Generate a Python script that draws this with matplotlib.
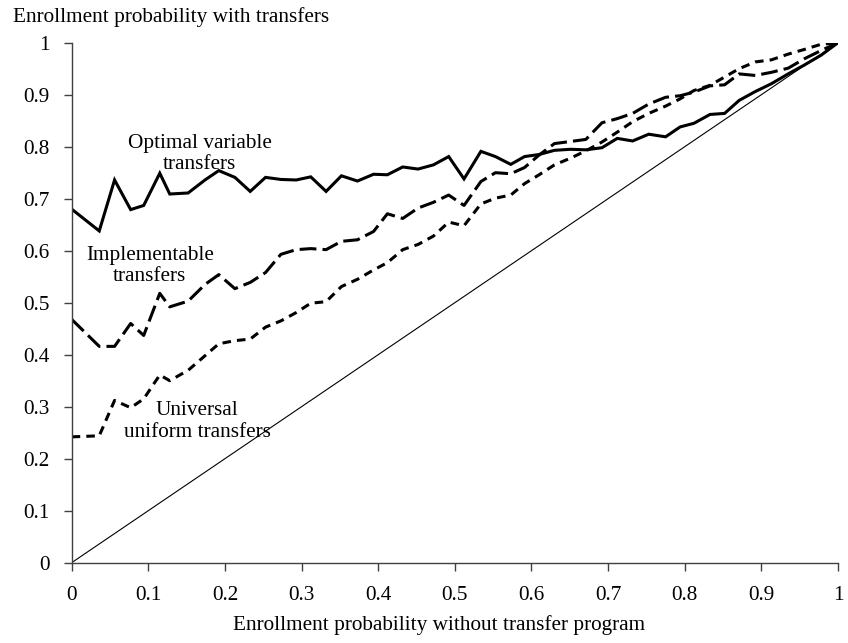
import matplotlib
matplotlib.use("Agg")
import matplotlib.pyplot as plt

# enrollment probability without transfers (x) and with each transfer scheme (y)
x_base = [0.0, 0.036, 0.056, 0.077, 0.094, 0.115, 0.128, 0.152, 0.174, 0.192,
          0.213, 0.233, 0.253, 0.273, 0.293, 0.312, 0.332, 0.352, 0.373, 0.394,
          0.412, 0.432, 0.452, 0.472, 0.492, 0.512, 0.534, 0.553, 0.573, 0.591,
          0.610, 0.630, 0.651, 0.671, 0.692, 0.712, 0.732, 0.753, 0.775, 0.794,
          0.812, 0.833, 0.852, 0.871, 0.892, 0.913, 0.935, 0.956, 0.978, 1.0]

optimal = [0.680, 0.638, 0.736, 0.679, 0.687, 0.749, 0.709, 0.711, 0.736, 0.754,
           0.741, 0.714, 0.741, 0.737, 0.736, 0.742, 0.714, 0.744, 0.734, 0.747,
           0.746, 0.761, 0.757, 0.765, 0.781, 0.738, 0.791, 0.781, 0.766, 0.781,
           0.785, 0.793, 0.795, 0.794, 0.798, 0.816, 0.811, 0.824, 0.819, 0.838,
           0.845, 0.862, 0.864, 0.889, 0.906, 0.921, 0.940, 0.957, 0.976, 1.0]

implementable = [0.468, 0.416, 0.416, 0.460, 0.437, 0.518, 0.492, 0.503, 0.535, 0.554,
                 0.527, 0.539, 0.558, 0.593, 0.602, 0.604, 0.602, 0.618, 0.621, 0.637,
                 0.671, 0.662, 0.682, 0.693, 0.707, 0.687, 0.733, 0.750, 0.748, 0.760,
                 0.784, 0.806, 0.810, 0.814, 0.846, 0.854, 0.864, 0.882, 0.895, 0.898,
                 0.905, 0.917, 0.919, 0.940, 0.937, 0.943, 0.951, 0.969, 0.985, 1.0]

universal = [0.242, 0.244, 0.312, 0.298, 0.315, 0.361, 0.350, 0.370, 0.398, 0.421,
             0.427, 0.430, 0.453, 0.465, 0.481, 0.499, 0.502, 0.531, 0.545, 0.563,
             0.577, 0.602, 0.612, 0.628, 0.655, 0.648, 0.690, 0.701, 0.707, 0.729,
             0.746, 0.765, 0.778, 0.792, 0.809, 0.828, 0.848, 0.864, 0.878, 0.892,
             0.908, 0.918, 0.934, 0.950, 0.963, 0.967, 0.978, 0.987, 0.997, 1.0]

ticks = [0, 0.1, 0.2, 0.3, 0.4, 0.5, 0.6, 0.7, 0.8, 0.9, 1]
tick_labels = ["0", "0.1", "0.2", "0.3", "0.4", "0.5", "0.6", "0.7", "0.8", "0.9", "1"]

plt.rcParams['font.family'] = ['Liberation Serif', 'DejaVu Serif']
fs = 15.3

fig = plt.figure(figsize=(8.48, 6.43), dpi=100)
ax = fig.add_axes([0.0845, 0.1249, 0.9037, 0.8087])

ax.plot([0, 1], [0, 1], color='black', linewidth=0.8)
ax.plot(x_base, optimal, color='black', linewidth=2.2, solid_joinstyle='miter')
ax.plot(x_base, implementable, color='black', linewidth=2.2, dashes=(5.5, 2))
ax.plot(x_base, universal, color='black', linewidth=2.2, dashes=(2.8, 2))

ax.set_xlim(0, 1)
ax.set_ylim(0, 1)
ax.set_xticks(ticks)
ax.set_xticklabels(tick_labels)
ax.set_yticks(ticks)
ax.set_yticklabels(tick_labels)
ax.tick_params(direction='out', length=6, width=1, color='#404040', labelsize=fs)
ax.tick_params(axis='x', pad=11)
ax.tick_params(axis='y', pad=10)

for side in ['top', 'right']:
    ax.spines[side].set_visible(False)
for side in ['left', 'bottom']:
    ax.spines[side].set_color('#404040')
    ax.spines[side].set_linewidth(1)

ax.text(0.167, 0.786, "Optimal variable\ntransfers", ha='center', va='center',
        fontsize=fs, linespacing=1.15)
ax.text(0.102, 0.570, "Implementable\ntransfers", ha='center', va='center',
        fontsize=fs, linespacing=1.15)
ax.text(0.164, 0.2715, "Universal\nuniform transfers", ha='center', va='center',
        fontsize=fs, linespacing=1.15)

fig.text(0.0153, 0.9736, "Enrollment probability with transfers", ha='left', va='center',
         fontsize=fs)
fig.text(0.7606, 0.028, "Enrollment probability without transfer program", ha='right',
         va='center', fontsize=fs)

fig.savefig("out.png", dpi=100)
